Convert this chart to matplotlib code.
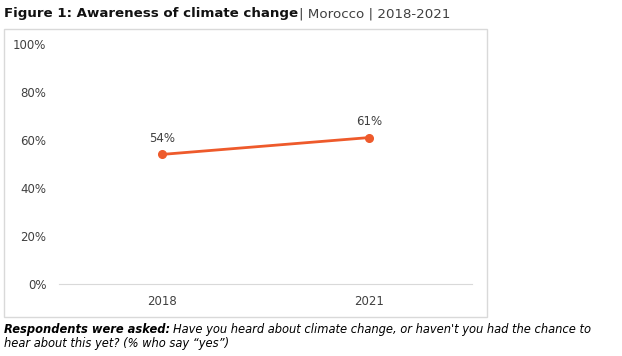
import matplotlib
matplotlib.use("Agg")
import matplotlib.pyplot as plt
from matplotlib.patches import Rectangle

# ---------------- DATA ----------------
years = ["2018", "2021"]
aware = [54, 61]
yticks = [0, 20, 40, 60, 80, 100]

LINE = "#EE5A2B"
TXT = "#404040"
W, H = 622, 356

fig = plt.figure(figsize=(W / 100, H / 100), dpi=100)
plt.rcParams["font.family"] = ["DejaVu Sans"]

# chart frame (px -> figure coords)
def fx(px): return px / W
def fy(py): return 1 - py / H

fig.patches.append(Rectangle((fx(4), fy(317)), fx(487) - fx(4), fy(29) - fy(317),
                             transform=fig.transFigure, fill=False,
                             edgecolor="#D9D9D9", linewidth=1.0))

ax = fig.add_axes([fx(59), fy(284), fx(472) - fx(59), fy(44) - fy(284)])
x = list(range(len(years)))
ax.plot(x, aware, color=LINE, linewidth=2.0, marker="o", markersize=5.5)
for xi, v in zip(x, aware):
    ax.annotate(f"{v}%", (xi, v), xytext=(0, 7), textcoords="offset points",
                ha="center", va="bottom", fontsize=8.5, color=TXT)

ax.set_xlim(-0.5, 1.5)
ax.set_ylim(0, 100)
ax.set_xticks(x)
ax.set_xticklabels(years)
ax.set_yticks(yticks)
ax.set_yticklabels([f"{t}%" for t in yticks])
ax.tick_params(length=0, labelsize=8.5, labelcolor=TXT)
ax.tick_params(axis="y", pad=9)
ax.tick_params(axis="x", pad=8)
for s in ["top", "right", "left"]:
    ax.spines[s].set_visible(False)
ax.spines["bottom"].set_color("#D9D9D9")
ax.patch.set_alpha(0)

# title: bold part + normal part
t1 = fig.text(fx(4), fy(14), "Figure 1: Awareness of climate change", fontsize=9.6,
              fontweight="bold", color="#111111", va="center", ha="left")
fig.canvas.draw()
bb = t1.get_window_extent()
fig.text(bb.x1 / W + 0.002, fy(14), "| Morocco | 2018-2021", fontsize=9.6,
         color=TXT, va="center", ha="left")

# caption
c1 = fig.text(fx(4), fy(329), "Respondents were asked:", fontsize=8.3,
              fontweight="bold", fontstyle="italic", color="black", va="center")
fig.canvas.draw()
bb = c1.get_window_extent()
fig.text(bb.x1 / W + 0.004, fy(329),
         "Have you heard about climate change, or haven't you had the chance to",
         fontsize=8.3, fontstyle="italic", color="black", va="center")
fig.text(fx(4), fy(344), "hear about this yet? (% who say \u201cyes\u201d)",
         fontsize=8.3, fontstyle="italic", color="black", va="center")

fig.savefig("out.png", dpi=100)
